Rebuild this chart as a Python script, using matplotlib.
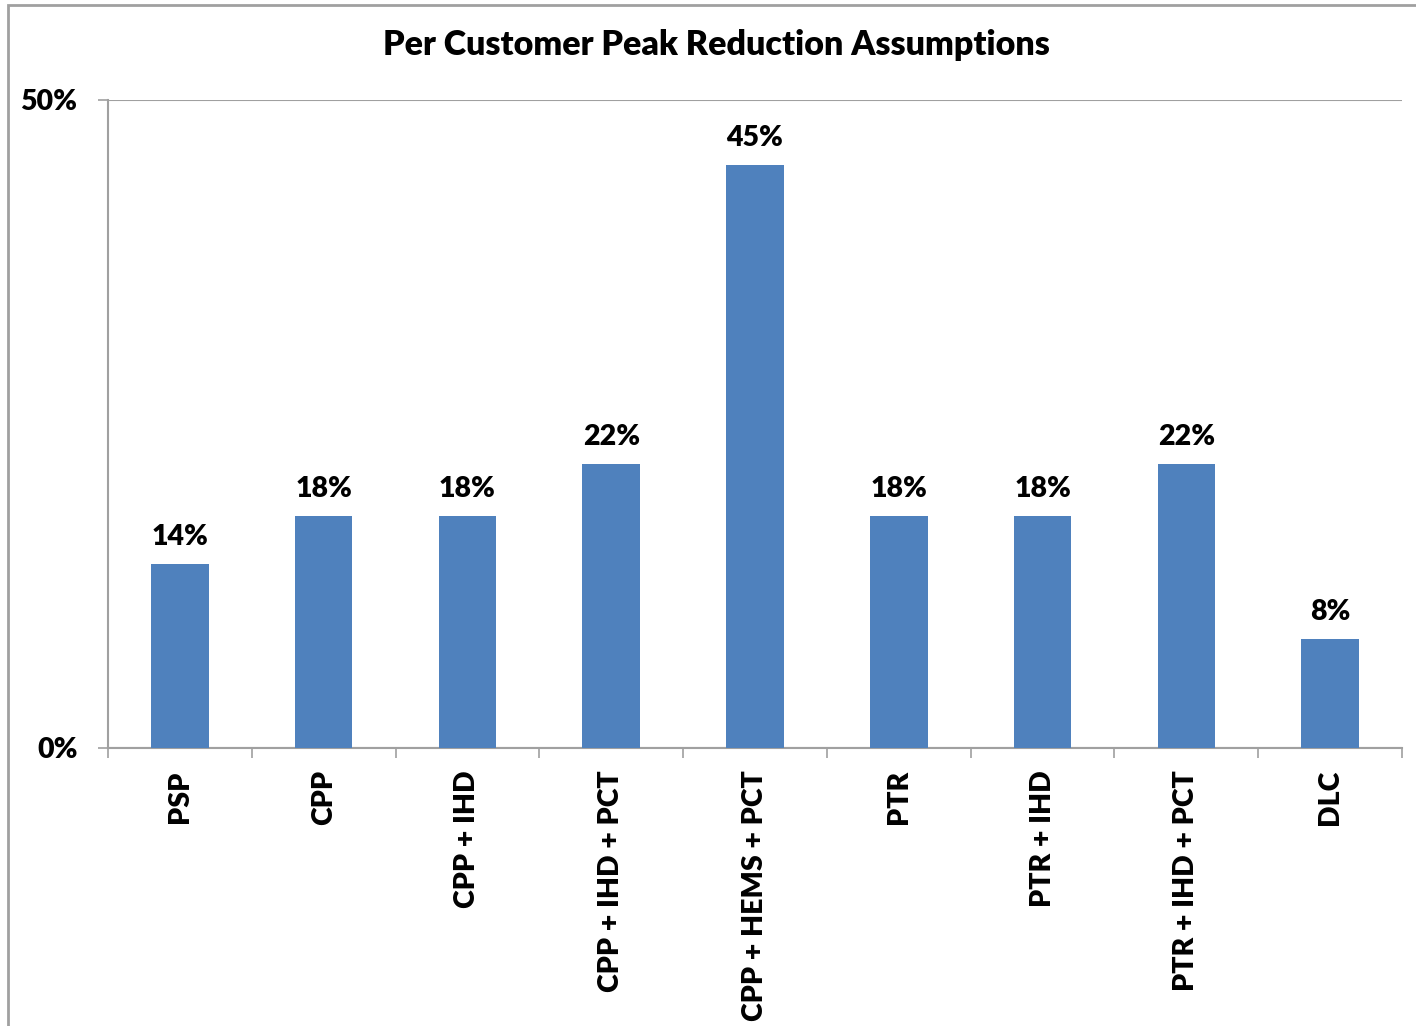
import matplotlib
matplotlib.use("Agg")
import matplotlib.pyplot as plt
import numpy as np
from matplotlib.patches import Rectangle
from matplotlib.ticker import FixedLocator, PercentFormatter

plt.rcParams['font.family'] = ['Lato', 'DejaVu Sans']
W = "heavy"

# data
programs = ["PSP", "CPP", "CPP + IHD", "CPP + IHD + PCT", "CPP + HEMS + PCT",
            "PTR", "PTR + IHD", "PTR + IHD + PCT", "DLC"]
reduction = [0.142, 0.179, 0.179, 0.219, 0.45, 0.179, 0.179, 0.219, 0.084]
labels = ["14%", "18%", "18%", "22%", "45%", "18%", "18%", "22%", "8%"]

grid_c = "#A0A0A0"
bar_c = "#4F81BD"

fig = plt.figure(figsize=(14.16, 10.26), dpi=100)
ax = fig.add_axes([108 / 1416, 1 - 748 / 1026, (1402 - 108) / 1416, (748 - 100) / 1026])

# outer chart border (only left/top visible in the crop)
fig.patches.append(Rectangle((8 / 1416, -0.05), 1.1, 1 - 5 / 1026 + 0.05,
                             transform=fig.transFigure, fill=False,
                             edgecolor=grid_c, linewidth=2, clip_on=False))

x = np.arange(len(programs))
ax.bar(x, reduction, width=0.4, color=bar_c, zorder=3)
for xi, v, lab in zip(x, reduction, labels):
    ax.text(xi, v + 0.011, lab, ha="center", va="bottom", fontsize=20.5, fontweight=W)

ax.set_xlim(-0.5, len(programs) - 0.5)
ax.set_ylim(0, 0.5)
ax.yaxis.set_major_locator(FixedLocator([0, 0.5]))
ax.yaxis.set_major_formatter(PercentFormatter(1.0, decimals=0))
ax.grid(axis="y", color=grid_c, linewidth=1.5, zorder=0)

ax.set_xticks(x)
ax.set_xticklabels(programs, rotation=90, fontsize=20.5, fontweight=W)
ax.xaxis.set_minor_locator(FixedLocator(np.arange(-0.5, len(programs), 1.0)))
ax.tick_params(axis="x", which="major", length=0, pad=16)
ax.tick_params(axis="x", which="minor", length=7, width=1.2, color=grid_c)
ax.tick_params(axis="y", length=7, width=1.2, color=grid_c, labelsize=20.5, pad=15)
for lab in ax.get_yticklabels():
    lab.set_fontweight(W)

for s in ["top", "right"]:
    ax.spines[s].set_visible(False)
for s in ["left", "bottom"]:
    ax.spines[s].set_color(grid_c)
    ax.spines[s].set_linewidth(1.5)

fig.text(716 / 1416, 1 - 45 / 1026, "Per Customer Peak Reduction Assumptions",
         ha="center", va="center", fontsize=24.5, fontweight=W)

fig.savefig("out.png", dpi=100)
